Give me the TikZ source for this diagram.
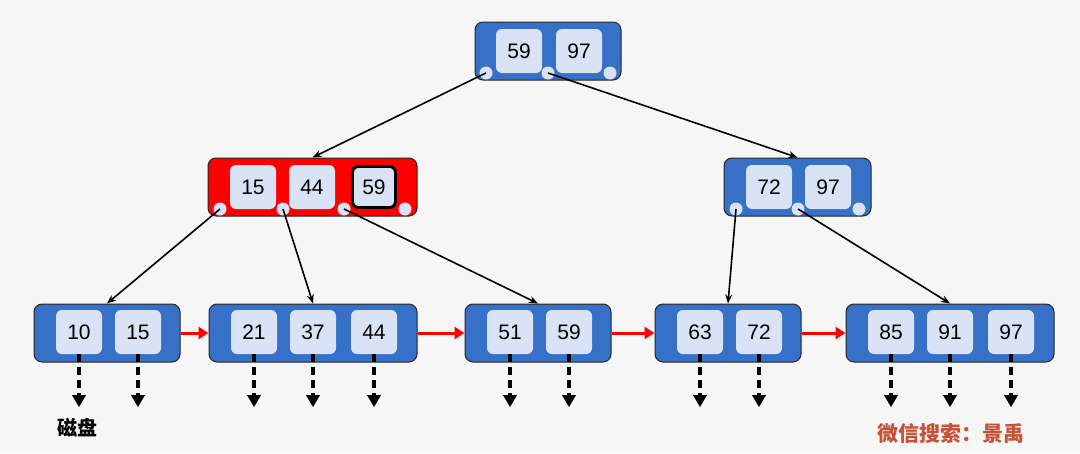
\documentclass[tikz,border=0pt]{standalone}
\usepackage{fontspec}
\setmainfont{Liberation Sans}
\newfontfamily\cjk{Noto Sans CJK SC}
\usetikzlibrary{arrows.meta,calc}
\definecolor{bg}{HTML}{F6F6F6}
\definecolor{nodeblue}{HTML}{3670C7}
\definecolor{keyfill}{HTML}{D9E3F5}
\definecolor{wmark}{HTML}{C4533A}
\tikzset{
  bnode/.style={draw=black!85, line width=1pt, rounded corners=8pt, minimum width=#1, minimum height=58pt, inner sep=0pt, fill=nodeblue},
  rnode/.style={bnode=#1, fill=red},
  keybox/.style={fill=keyfill, rounded corners=6pt, minimum width=46pt, minimum height=44pt, inner sep=0pt, font=\fontsize{21}{23}\selectfont},
  selkey/.style={keybox, draw=black, line width=2.8pt, minimum width=43pt, minimum height=41pt},
  ptr/.style={circle, fill=keyfill, minimum size=13pt, inner sep=0pt},
  edge/.style={draw=black, line width=1.6pt, -{Stealth[length=9pt,width=7pt]}},
  link/.style={draw=red, line width=3pt, -{Triangle[length=10pt,width=12pt]}},
  disk/.style={draw=black, line width=3.6pt, dash pattern=on 8pt off 5pt, -{Triangle[length=12pt,width=13pt]}}
}
\begin{document}
\begin{tikzpicture}[x=1pt,y=-1pt]
\fill[bg] (0,0) rectangle (1080,453);
\useasboundingbox (0,0) rectangle (1080,453);

% root
\node[bnode=146pt] (root) at (548,51) {};
\node[keybox] (r1) at (519,51) {59};
\node[keybox] (r2) at (579,51) {97};
\node[ptr] (rc1) at (486,73) {};
\node[ptr] (rc2) at (548,73) {};
\node[ptr] (rc3) at (610,73) {};

% level 2 left (red)
\node[rnode=209pt] (A) at (312.5,187) {};
\node[keybox] (a1) at (253,187) {15};
\node[keybox] (a2) at (312,187) {44};
\node[selkey] (a3) at (374,187) {59};
\node[ptr] (ac1) at (220,209) {};
\node[ptr] (ac2) at (283,209) {};
\node[ptr] (ac3) at (344,209) {};
\node[ptr] (ac4) at (405,209) {};

% level 2 right
\node[bnode=147pt] (B) at (797.5,187) {};
\node[keybox] (b1) at (769,187) {72};
\node[keybox] (b2) at (828,187) {97};
\node[ptr] (bc1) at (736,209) {};
\node[ptr] (bc2) at (798,209) {};
\node[ptr] (bc3) at (859,209) {};

% leaves
\node[bnode=146pt] (L1) at (107,333) {};
\node[keybox] (k1) at (79,332) {10};
\node[keybox] (k2) at (138,332) {15};

\node[bnode=208pt] (L2) at (313,333) {};
\node[keybox] (k3) at (254,332) {21};
\node[keybox] (k4) at (313,332) {37};
\node[keybox] (k5) at (374,332) {44};

\node[bnode=146pt] (L3) at (538,333) {};
\node[keybox] (k6) at (510,332) {51};
\node[keybox] (k7) at (569,332) {59};

\node[bnode=146pt] (L4) at (728,333) {};
\node[keybox] (k8) at (700,332) {63};
\node[keybox] (k9) at (759,332) {72};

\node[bnode=208pt] (L5) at (950,333) {};
\node[keybox] (k10) at (891,332) {85};
\node[keybox] (k11) at (950,332) {91};
\node[keybox] (k12) at (1011,332) {97};

% tree edges
\draw[edge] (rc1.center) -- (A.north);
\draw[edge] (rc2.center) -- (B.north);
\draw[edge] (ac1.center) -- (L1.north);
\draw[edge] (ac2.center) -- (L2.north);
\draw[edge] (ac3.center) -- (L3.north);
\draw[edge] (bc1.center) -- (L4.north);
\draw[edge] (bc2.center) -- (L5.north);

% leaf links
\draw[link] (L1.east) -- (L2.west);
\draw[link] (L2.east) -- (L3.west);
\draw[link] (L3.east) -- (L4.west);
\draw[link] (L4.east) -- (L5.west);

% disk pointers
\foreach \k in {k1,k2,k3,k4,k5,k6,k7,k8,k9,k10,k11,k12}{
  \coordinate (\k d) at ([yshift=-53pt]\k.south);
  \draw[disk] (\k.south) -- (\k d);
}

\node[font=\cjk\bfseries\fontsize{20}{22}\selectfont] (disklabel) at (77,428) {磁盘};
\node[font=\cjk\bfseries\fontsize{21}{23}\selectfont, text=wmark] (wm) at (951,434) {微信搜索：景禹};
\end{tikzpicture}
\end{document}
